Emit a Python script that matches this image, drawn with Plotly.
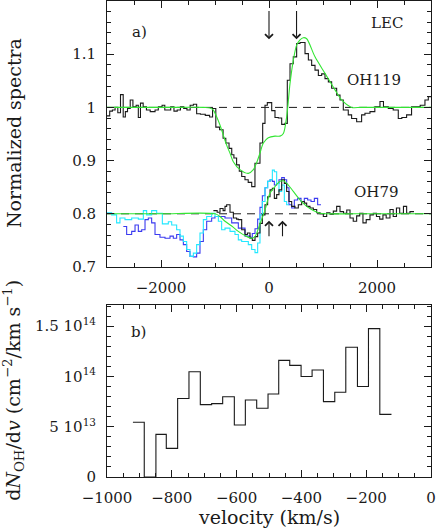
import plotly.graph_objects as go

# ---- panel a) OH119 spectrum (left bin edges, normalized flux) ----
oh119_left = [-3000, -2950, -2900, -2850, -2800, -2750, -2700, -2660, -2620, -2570,
              -2520, -2460, -2420, -2380, -2330, -2270, -2200, -2110, -2050, -1980,
              -1930, -1820, -1760, -1700, -1640, -1580, -1520, -1460, -1400, -1340,
              -1270, -1180, -1100, -1045, -985, -915, -850, -800, -740, -690,
              -650, -600, -550, -505, -445, -385, -320, -260, -167, -117,
              -74, -31, 50, 111, 173, 235, 296, 339, 389, 450,
              512, 574, 667, 729, 790, 852, 914, 975, 1037, 1099,
              1160, 1253, 1315, 1376, 1468, 1530, 1623, 1715, 1777, 1870,
              1960, 2055, 2120, 2209, 2300, 2394, 2460, 2548, 2640, 2702,
              2800, 2888, 2950]
oh119_flux = [0.984, 0.993, 0.995, 1.000, 0.990, 1.024, 0.982, 0.992, 0.998, 1.014,
              1.001, 1.004, 0.981, 1.008, 1.001, 0.995, 0.992, 0.995, 1.001, 1.004,
              0.995, 1.001, 0.993, 0.995, 1.001, 0.998, 0.995, 1.004, 1.006, 0.988,
              0.987, 0.985, 0.982, 0.998, 0.963, 0.958, 0.942, 0.933, 0.923, 0.911,
              0.905, 0.892, 0.880, 0.870, 0.864, 0.859, 0.851, 0.895, 0.933, 0.970,
              1.004, 1.009, 0.994, 0.981, 0.980, 0.968, 0.970, 1.051, 1.082, 1.095,
              1.120, 1.122, 1.101, 1.089, 1.079, 1.070, 1.060, 1.063, 1.054, 1.048,
              1.036, 1.023, 1.014, 0.995, 0.986, 0.979, 0.973, 0.986, 0.989, 0.992,
              1.001, 1.011, 1.001, 0.998, 0.995, 0.979, 0.981, 0.986, 1.001, 1.001,
              1.004, 1.014, 1.020]
oh119_end = 3000

oh119_fit_v = [-3000, -2000, -1200, -1093, -1031, -970, -908, -846, -784, -723, -661,
               -538, -383, -290, -229, -167, -105, -13, 111, 204, 266, 327, 389, 451,
               512, 574, 636, 698, 852, 1037, 1222, 1345, 1530, 1700, 2200, 3000]
oh119_fit = [1.0, 1.0, 1.0, 0.999, 0.995, 0.9825, 0.967, 0.948, 0.929, 0.914, 0.898,
             0.883, 0.876, 0.883, 0.896, 0.914, 0.933, 0.943, 0.946, 0.946, 0.951,
             0.9825, 1.045, 1.089, 1.117, 1.127, 1.131, 1.129, 1.095, 1.064, 1.033,
             1.014, 1.0, 1.0, 1.0, 1.0]

# ---- panel a) OH79 spectra (offset to 0.8) ----
oh79_left = [-1030, -960, -907, -850, -815, -784, -722, -660, -600, -568,
             -506, -445, -400, -352, -309, -259, -210, -167, -123, -74,
             -25, 19, 62, 99, 142, 185, 235, 284, 327, 370,
             420, 481, 543, 605, 654, 698, 759, 821, 883, 945,
             1006, 1068, 1130, 1191, 1253, 1315, 1380, 1440, 1500, 1560,
             1623, 1680, 1740, 1800, 1870, 1931, 1990, 2050, 2110, 2170,
             2240, 2300, 2360, 2420, 2490, 2549, 2610]
oh79_flux = [0.806, 0.803, 0.810, 0.806, 0.814, 0.817, 0.803, 0.792, 0.790, 0.789,
             0.770, 0.761, 0.764, 0.754, 0.750, 0.757, 0.764, 0.782, 0.798, 0.817,
             0.832, 0.845, 0.848, 0.829, 0.836, 0.845, 0.864, 0.857, 0.842, 0.823,
             0.814, 0.811, 0.817, 0.823, 0.820, 0.814, 0.811, 0.808, 0.802, 0.800,
             0.795, 0.802, 0.799, 0.805, 0.814, 0.804, 0.801, 0.807, 0.792, 0.786,
             0.796, 0.801, 0.783, 0.789, 0.798, 0.801, 0.795, 0.790, 0.798, 0.792,
             0.808, 0.795, 0.811, 0.801, 0.814, 0.801, 0.804]
oh79_end = 2685

blue_left = [-2698, -2636, -2543, -2481, -2420, -2358, -2296, -2235, -2173, -2111,
             -2019, -1926, -1833, -1772, -1710, -1648, -1586, -1525, -1463, -1401,
             -1340, -1278, -1216, -1154, -1062, -1000, -907, -815, -691, -568,
             -444, -352, -309, -259, -210, -167, -123, -74, -25, 19,
             62, 99, 142, 185, 235, 284, 327, 370, 420, 469,
             531, 593, 654, 716, 778, 840, 901]
blue_flux = [0.776, 0.761, 0.767, 0.779, 0.767, 0.770, 0.789, 0.792, 0.783, 0.761,
             0.756, 0.754, 0.758, 0.754, 0.761, 0.751, 0.742, 0.729, 0.720, 0.719,
             0.726, 0.748, 0.770, 0.786, 0.792, 0.795, 0.795, 0.792, 0.783, 0.773,
             0.758, 0.756, 0.763, 0.772, 0.790, 0.812, 0.834, 0.849, 0.861, 0.864,
             0.861, 0.854, 0.857, 0.864, 0.868, 0.864, 0.849, 0.817, 0.811, 0.826,
             0.829, 0.823, 0.829, 0.826, 0.823, 0.829, 0.817]
blue_end = 963

cyan_left = [-3000, -2914, -2822, -2760, -2667, -2543, -2420, -2327, -2266, -2173,
             -2080, -1975, -1864, -1802, -1710, -1648, -1586, -1525, -1463, -1401,
             -1340, -1278, -1216, -1154, -1062, -1000, -938, -877, -815, -722,
             -630, -568, -506, -445, -383, -321, -259, -210, -167, -123,
             -74, -25, 19, 62, 99, 142, 185, 235, 284, 327]
cyan_flux = [0.802, 0.798, 0.783, 0.792, 0.789, 0.792, 0.790, 0.806, 0.798, 0.806,
             0.801, 0.781, 0.785, 0.779, 0.770, 0.758, 0.748, 0.733, 0.720, 0.726,
             0.742, 0.764, 0.789, 0.795, 0.801, 0.795, 0.786, 0.770, 0.773, 0.767,
             0.761, 0.751, 0.748, 0.748, 0.742, 0.733, 0.727, 0.745, 0.798, 0.823,
             0.849, 0.861, 0.864, 0.882, 0.879, 0.857, 0.842, 0.854, 0.823, 0.817]
cyan_end = 370

oh79_fit_v = [-3000, -2000, -1000, -907, -815, -691, -568, -445, -321, -259, -167,
              -74, 19, 111, 204, 265, 358, 451, 574, 698, 821, 945, 1068, 1600, 2200, 3000]
oh79_fit = [0.8, 0.8, 0.8, 0.795, 0.786, 0.777, 0.767, 0.759, 0.754, 0.757, 0.781,
            0.807, 0.839, 0.851, 0.861, 0.862, 0.854, 0.842, 0.826, 0.814, 0.806,
            0.801, 0.8, 0.8, 0.8, 0.8]

baselines = [1.0, 0.8]
arrow_down_v = [0, 510]
arrow_up_v = [0, 250]

# ---- panel b) column density per velocity bin ----
dn_left = [-920, -885, -849, -817, -782, -747, -712, -677, -643, -607, -573, -538,
           -503, -470, -436, -401, -367, -332, -297, -263, -227, -193, -158]
dn_vals = [5.44e13, 0.0, 4.24e13, 2.85e13, 7.8e13, 1.047e14, 7.2e13, 7.3e13, 7.98e13,
           5.17e13, 7.65e13, 6.83e13, 8.25e13, 1.16e14, 1.11e14, 1.0e14, 1.064e14,
           7.49e13, 8.42e13, 1.29e14, 9.0e13, 1.475e14, 6.23e13]
dn_end = -122

BLACK = "#1a1a1a"
GREEN = "#33e633"
BLUE = "#3a3af0"
CYAN = "#22e8ff"
FONT = "DejaVu Serif"


def steps(left, vals, end):
    return list(left) + [end], list(vals) + [vals[-1]]


fig = go.Figure()

for b in baselines:
    fig.add_trace(go.Scatter(x=[-3000, 3000], y=[b, b], mode="lines",
                             line=dict(color=BLACK, width=1, dash="8px,6px")))

for left, vals, end, col in [(blue_left, blue_flux, blue_end, BLUE),
                             (cyan_left, cyan_flux, cyan_end, CYAN),
                             (oh119_left, oh119_flux, oh119_end, BLACK),
                             (oh79_left, oh79_flux, oh79_end, BLACK)]:
    xs, ys = steps(left, vals, end)
    fig.add_trace(go.Scatter(x=xs, y=ys, mode="lines", line_shape="hv",
                             line=dict(color=col, width=1.1)))

for fv, fy in [(oh119_fit_v, oh119_fit), (oh79_fit_v, oh79_fit)]:
    fig.add_trace(go.Scatter(x=fv, y=fy, mode="lines", line_shape="spline",
                             line=dict(color=GREEN, width=1.1, smoothing=0.8)))

xs, ys = steps(dn_left, dn_vals, dn_end)
fig.add_trace(go.Scatter(x=xs, y=ys, mode="lines", line_shape="hv",
                         line=dict(color=BLACK, width=1.1), xaxis="x2", yaxis="y2"))

for v in arrow_down_v:
    fig.add_annotation(x=v, y=1.128, ax=v, ay=1.2, xref="x", yref="y", axref="x", ayref="y",
                       showarrow=True, arrowhead=4, arrowsize=1.4, arrowwidth=1.1,
                       arrowcolor=BLACK, text=" ")
for v in arrow_up_v:
    fig.add_annotation(x=v, y=0.787, ax=v, ay=0.739, xref="x", yref="y", axref="x", ayref="y",
                       showarrow=True, arrowhead=4, arrowsize=1.4, arrowwidth=1.1,
                       arrowcolor=BLACK, text=" ")

labels = [("a)", -2390, 1.141, "x", "y"), ("LEC", 2194, 1.158, "x", "y"),
          ("OH119", 1944, 1.051, "x", "y"), ("OH79", 1981, 0.841, "x", "y"),
          ("b)", -902, 1.444e14, "x2", "y2")]
for txt, lx, ly, xr, yr in labels:
    fig.add_annotation(x=lx, y=ly, xref=xr, yref=yr, text=txt, showarrow=False,
                       xanchor="center", yanchor="middle",
                       font=dict(family=FONT, size=15, color=BLACK))

titles = [("Normalized spectra", -0.287, 0.7227, -90, 19),
          ("d<i>N</i><sub>OH</sub>/d<i>v</i> (cm<sup>−2</sup>/km s<sup>−1</sup>)",
           -0.287, 0.181, -90, 19),
          ("velocity (km/s)", 0.5, -0.084, 0, 19)]
for txt, px, py, ang, size in titles:
    fig.add_annotation(x=px, y=py, xref="paper", yref="paper", text=txt, textangle=ang,
                       xanchor="center", yanchor="middle", showarrow=False,
                       font=dict(family=FONT, size=size, color=BLACK))

axis_common = dict(showline=True, linecolor=BLACK, linewidth=1, mirror="allticks",
                   ticks="inside", tickcolor=BLACK, tickwidth=1, showgrid=False,
                   zeroline=False, automargin=False,
                   tickfont=dict(family=FONT, size=15, color=BLACK))

fig.update_layout(
    width=436, height=529, autosize=False,
    margin=dict(l=107, r=5, t=1, b=52),
    plot_bgcolor="white", paper_bgcolor="white",
    showlegend=False,
    xaxis=dict(domain=[0, 1], anchor="y", range=[-3000, 3000],
               tickmode="array", tickvals=[-2000, 0, 2000], ticktext=["−2000", "0", "2000"],
               ticklen=7, ticklabelstandoff=7,
               minor=dict(tickmode="linear", tick0=-3000, dtick=500, ticklen=4,
                          ticks="inside", tickcolor=BLACK),
               **axis_common),
    yaxis=dict(domain=[0.4412, 1], anchor="x", range=[0.7, 1.2],
               tickmode="array", tickvals=[0.7, 0.8, 0.9, 1.0, 1.1],
               ticktext=["0.7", "0.8", "0.9", "1", "1.1"],
               ticklen=7, ticklabelstandoff=7,
               minor=dict(tickmode="linear", tick0=0.7, dtick=0.02, ticklen=4,
                          ticks="inside", tickcolor=BLACK),
               **axis_common),
    xaxis2=dict(domain=[0, 1], anchor="y2", range=[-1000, 0],
                tickmode="array", tickvals=[-1000, -800, -600, -400, -200, 0],
                ticktext=["−1000", "−800", "−600", "−400", "−200", "0"],
                ticklen=7, ticklabelstandoff=7,
                minor=dict(tickmode="linear", tick0=-1000, dtick=50, ticklen=4,
                           ticks="inside", tickcolor=BLACK),
                **axis_common),
    yaxis2=dict(domain=[0, 0.3613], anchor="x2", range=[0, 1.71e14],
                tickmode="array", tickvals=[0, 5e13, 1e14, 1.5e14],
                ticktext=["0", "5 10<sup>13</sup>", "10<sup>14</sup>", "1.5 10<sup>14</sup>"],
                ticklen=7, ticklabelstandoff=7,
                minor=dict(tickmode="linear", tick0=0, dtick=1e13, ticklen=4,
                           ticks="inside", tickcolor=BLACK),
                **axis_common),
)

fig.write_html(
    "out.html",
    config={"responsive": False, "displayModeBar": False},
    post_script="document.body.style.margin='0';document.body.style.overflow='hidden';",
)
